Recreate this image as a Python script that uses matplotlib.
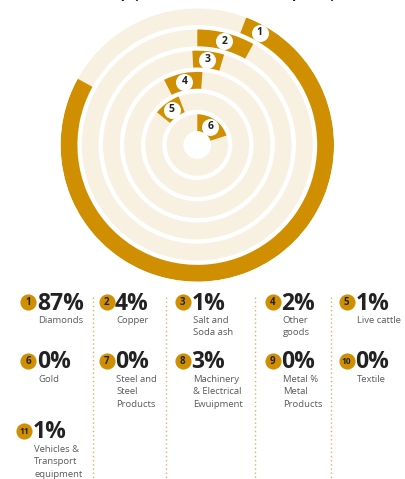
import numpy as np
from matplotlib import pyplot as plt

plt.rcParams['font.family'] = ['Open Sans', 'DejaVu Sans']

# --- data ---
title = "Group (% of total value of exports)"
shares = [87, 4, 1, 2, 1, 0, 0, 3, 0, 0, 1]
products = ['Diamonds', 'Copper', 'Salt and\nSoda ash', 'Other\ngoods', 'Live cattle',
            'Gold', 'Steel and\nSteel\nProducts', 'Machinery\n& Electrical\nEwuipment',
            'Metal %\nMetal\nProducts', 'Textile', 'Vehicles &\nTransport\nequipment']
# arcs of the six rings, degrees clockwise from 12 o'clock
arc_start = [21, 0, -3, -27, -51, 0]
arc_end = [299, 29, 16.5, 4, -21, 72]

GOLD, CREAM, DARK, GREY = '#CF8F00', '#F8F1E2', '#222222', '#5a5a5a'
W, H, DPI = 405, 479, 100

fig = plt.figure(figsize=(W / DPI, H / DPI), dpi=DPI)

# --- radial rings ---
cx, cy, R = 197.3, 145.0, 136.7
ax = fig.add_axes([(cx - R) / W, (H - cy - R) / H, 2 * R / W, 2 * R / H], projection='polar')
ax.set_theta_zero_location('N')
ax.set_theta_direction(-1)
ax.set_ylim(0, R)
ax.axis('off')

n = len(arc_start)
outer = R - 21.2 * np.arange(n)
thick = 16.8
ax.bar(np.zeros(n), thick, width=2 * np.pi, bottom=outer - thick,
       color=CREAM, align='edge', linewidth=0)
start, end = np.array(arc_start), np.array(arc_end)
span = end - start
ax.bar(np.deg2rad(start), thick, width=np.deg2rad(span), bottom=outer - thick,
       color=GOLD, align='edge', linewidth=0)
lab = np.where(span > 180, start + 8, (start + end) / 2)
ax.scatter(np.deg2rad(lab), outer - thick / 2, s=150, color='white', zorder=3, linewidth=0)
for i, (t, r) in enumerate(zip(np.deg2rad(lab), outer - thick / 2)):
    ax.text(t, r, str(i + 1), ha='center', va='center', fontsize=7.5, fontweight='bold',
            color=DARK, zorder=4)

# --- legend grid ---
ov = fig.add_axes([0, 0, 1, 1])
ov.set_xlim(0, W)
ov.set_ylim(H, 0)
ov.axis('off')
ov.patch.set_alpha(0)

ov.text(210, -2.2, title, ha='center', va='baseline', fontsize=10.5, fontweight='bold', color=DARK)

col_x = [28.3, 106.5, 182.7, 272.7, 346.7]
row_y = [302, 361, 431]
ov.vlines([92.7, 165.7, 255, 331], 297, H, colors='#D9B46A', linestyles=(0, (1, 2)), linewidth=1)

for k, (v, name) in enumerate(zip(shares, products)):
    x, y = col_x[k % 5], row_y[k // 5]
    if k == 10:
        x -= 4
    ov.scatter(x, y, s=135, color=GOLD, linewidth=0, zorder=3)
    ov.text(x, y + 0.3, str(k + 1), ha='center', va='center', fontsize=7 if k < 9 else 6,
            fontweight='bold', color=DARK, zorder=4)
    ov.text(x + 8.5, y + 1.5, f'{v}%', ha='left', va='center', fontsize=16.5,
            fontweight='bold', color=DARK)
    for j, line in enumerate(name.split('\n')):
        ov.text(x + 10, y + 17.5 + 12.4 * j, line, ha='left', va='center_baseline',
                fontsize=6.8, color=GREY)

fig.savefig('out.png', dpi=DPI)
